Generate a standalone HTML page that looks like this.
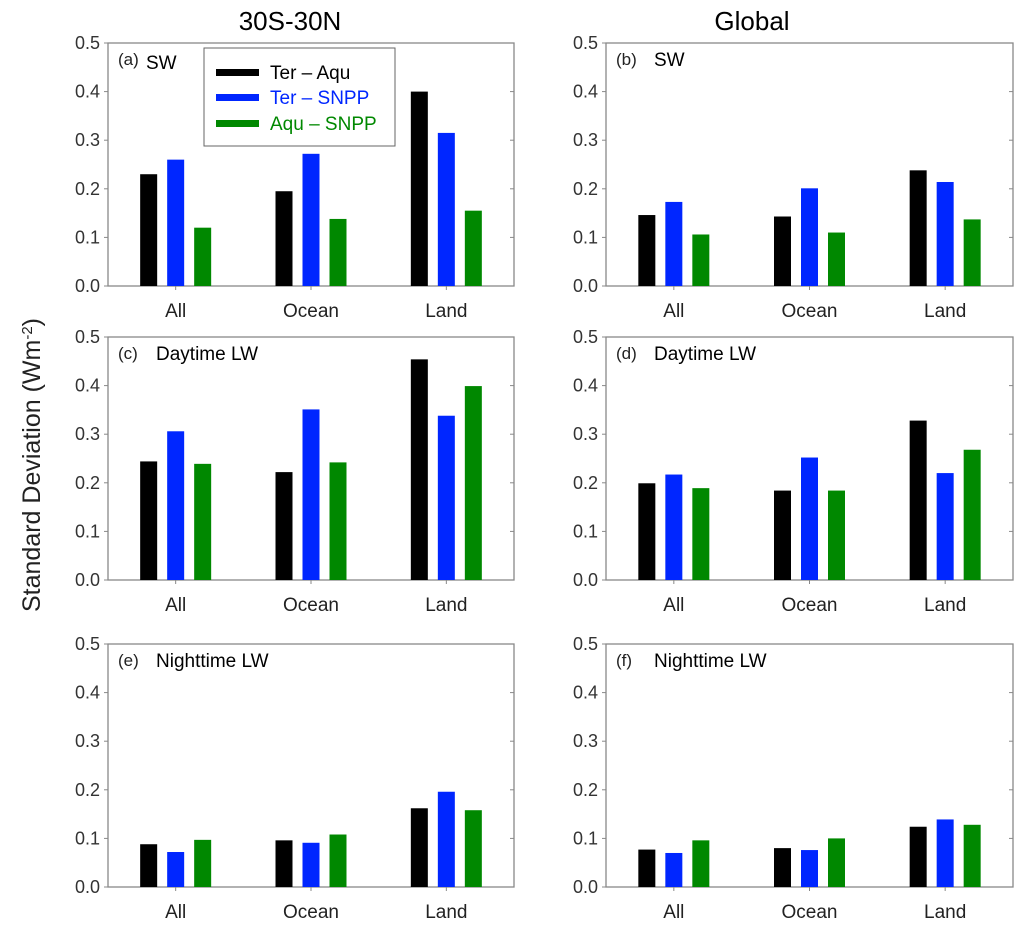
<!DOCTYPE html>
<html><head><meta charset="utf-8"><style>
body{margin:0;background:#fff;}
svg{display:block;font-family:"Liberation Sans",sans-serif;}
</style></head><body>
<svg id="chart" width="1024" height="932">
<text x="290" y="30" font-size="26" text-anchor="middle">30S-30N</text>
<text x="752" y="30" font-size="26" text-anchor="middle">Global</text>
<text transform="translate(40,465) rotate(-90)" font-size="25" text-anchor="middle" fill="#222">Standard Deviation (Wm<tspan baseline-shift="super" font-size="15">-2</tspan>)</text>
<g id="legend">
<rect x="204" y="48" width="191" height="98" fill="#fff" stroke="#666" stroke-width="1"/>
<g><rect x="216" y="69" width="43" height="7" fill="#000"/><text x="270" y="79" font-size="19" fill="#000">Ter – Aqu</text></g>
<g><rect x="216" y="94" width="43" height="7" fill="#0026ff"/><text x="270" y="104" font-size="19" fill="#0026ff">Ter – SNPP</text></g>
<g><rect x="216" y="120" width="43" height="7" fill="#008800"/><text x="270" y="130" font-size="19" fill="#008800">Aqu – SNPP</text></g>
</g>
</svg>
<script>
const categories = ["All","Ocean","Land"];
const seriesNames = ["Ter – Aqu","Ter – SNPP","Aqu – SNPP"];
const seriesColors = ["#000000","#0026ff","#008800"];
const yTicks = [0,0.1,0.2,0.3,0.4,0.5];
const yTickLabels = ["0.0","0.1","0.2","0.3","0.4","0.5"];
const panelLetters = ["(a)","(b)","(c)","(d)","(e)","(f)"];
const panelTitles = ["SW","SW","Daytime LW","Daytime LW","Nighttime LW","Nighttime LW"];
const valsA_terAqu=[0.230,0.195,0.400], valsA_terSnpp=[0.260,0.272,0.315], valsA_aquSnpp=[0.120,0.138,0.155];
const valsB_terAqu=[0.146,0.143,0.238], valsB_terSnpp=[0.173,0.201,0.214], valsB_aquSnpp=[0.106,0.110,0.137];
const valsC_terAqu=[0.244,0.222,0.454], valsC_terSnpp=[0.306,0.351,0.338], valsC_aquSnpp=[0.239,0.242,0.399];
const valsD_terAqu=[0.199,0.184,0.328], valsD_terSnpp=[0.217,0.252,0.220], valsD_aquSnpp=[0.189,0.184,0.268];
const valsE_terAqu=[0.088,0.096,0.162], valsE_terSnpp=[0.072,0.091,0.196], valsE_aquSnpp=[0.097,0.108,0.158];
const valsF_terAqu=[0.077,0.080,0.124], valsF_terSnpp=[0.070,0.076,0.139], valsF_aquSnpp=[0.096,0.100,0.128];
const panelData=[[valsA_terAqu,valsA_terSnpp,valsA_aquSnpp],[valsB_terAqu,valsB_terSnpp,valsB_aquSnpp],[valsC_terAqu,valsC_terSnpp,valsC_aquSnpp],[valsD_terAqu,valsD_terSnpp,valsD_aquSnpp],[valsE_terAqu,valsE_terSnpp,valsE_aquSnpp],[valsF_terAqu,valsF_terSnpp,valsF_aquSnpp]];

const NS="http://www.w3.org/2000/svg";
const svg=document.getElementById('chart');
const legend=document.getElementById('legend');
const cols=[{l:108,r:514},{l:606,r:1013}];
const rows=[{t:43,b:286},{t:337,b:580},{t:644,b:887}];
function mk(tag,attrs,parent){const e=document.createElementNS(NS,tag);for(const k in attrs)e.setAttribute(k,attrs[k]);parent.appendChild(e);return e;}
for(let p=0;p<6;p++){
  const c=cols[p%2], r=rows[Math.floor(p/2)];
  const g=mk('g',{},svg);
  
  
  const yScale=v=>r.b-(v/0.5)*(r.b-r.t);
  const xScale=i=>c.l+(c.r-c.l)*(2*i+1)/6;
  const frame=mk('rect',{x:c.l,y:r.t,width:c.r-c.l,height:r.b-r.t,fill:'none',stroke:'#888','stroke-width':1.3},g);
  
  
  yTicks.forEach((t,i)=>{
    const y=yScale(t);
    mk('line',{x1:c.l-4,x2:c.l,y1:y,y2:y,stroke:'#888'},g);
    mk('line',{x1:c.r-4,x2:c.r,y1:y,y2:y,stroke:'#888'},g);
    const tl=mk('text',{x:c.l-8,y:y+6,'font-size':18,'text-anchor':'end',fill:'#333'},g);
    tl.textContent=yTickLabels[i];
    
    
  });
  categories.forEach((cat,i)=>{
    const x=xScale(i);
    mk('line',{x1:x,x2:x,y1:r.b,y2:r.b+4,stroke:'#888'},g);
    const cl=mk('text',{x:x,y:r.b+31,'font-size':19,'text-anchor':'middle',fill:'#222'},g);
    cl.textContent=cat;
    
    
    panelData[p].forEach((ser,s)=>{
      const v=ser[i];
      const bx=x+(s-1)*27-8.5;
      const bar=mk('rect',{x:bx,y:yScale(v),width:17,height:r.b-yScale(v),fill:seriesColors[s]},g);
      
      
    });
  });
  const lt=mk('text',{x:c.l+10,y:r.t+22,'font-size':17,fill:'#222'},g);
  lt.textContent=panelLetters[p];
  
  
  const tt=mk('text',{x:c.l+(p===0?38:48),y:r.t+(p===0?26:23),'font-size':19,fill:'#000'},g);
  tt.textContent=panelTitles[p];
  
  
}
svg.appendChild(legend);
</script>
</body></html>
